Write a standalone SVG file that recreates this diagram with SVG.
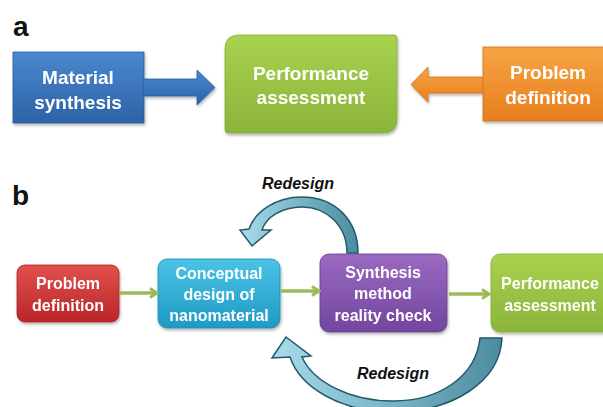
<svg xmlns="http://www.w3.org/2000/svg" width="603" height="407" viewBox="0 0 603 407">
<defs>
  <style>
    .lbl{font-family:"Liberation Sans",Arial,sans-serif;font-weight:bold;fill:#111}
    .ta{font-family:"Liberation Sans",Arial,sans-serif;font-weight:bold;font-size:19px;fill:#fff;text-anchor:middle}
    .tb{font-family:"Liberation Sans",Arial,sans-serif;font-weight:bold;font-size:16px;fill:#fff;text-anchor:middle}
    .rd{font-family:"Liberation Sans",Arial,sans-serif;font-weight:bold;font-style:italic;font-size:16px;fill:#111;text-anchor:middle}
    .con{stroke:#9bbb59;stroke-width:3.5;fill:none}
    .arc{stroke:#23596a;stroke-width:1.5}
  </style>
  <filter id="sh" x="-10%" y="-10%" width="125%" height="130%">
    <feDropShadow dx="1" dy="2" stdDeviation="1.5" flood-color="#000" flood-opacity="0.3"/>
  </filter>
  <linearGradient id="gBlue" x1="0" y1="0" x2="0" y2="1"><stop offset="0" stop-color="#4a88cf"/><stop offset="1" stop-color="#2d62a6"/></linearGradient>
  <linearGradient id="gGreen" x1="0" y1="0" x2="0" y2="1"><stop offset="0" stop-color="#a9d24f"/><stop offset="1" stop-color="#8bb43b"/></linearGradient>
  <linearGradient id="gOrange" x1="0" y1="0" x2="0" y2="1"><stop offset="0" stop-color="#f8a444"/><stop offset="1" stop-color="#e77f1d"/></linearGradient>
  <linearGradient id="gRed" x1="0" y1="0" x2="0" y2="1"><stop offset="0" stop-color="#e2504c"/><stop offset="1" stop-color="#b9262a"/></linearGradient>
  <linearGradient id="gCyan" x1="0" y1="0" x2="0" y2="1"><stop offset="0" stop-color="#4ac3e6"/><stop offset="1" stop-color="#1f9ac4"/></linearGradient>
  <linearGradient id="gPurple" x1="0" y1="0" x2="0" y2="1"><stop offset="0" stop-color="#9a69c0"/><stop offset="1" stop-color="#72469e"/></linearGradient>
  <linearGradient id="gArc" x1="0" y1="0" x2="1" y2="0"><stop offset="0" stop-color="#a7dcec"/><stop offset="1" stop-color="#4c8c9e"/></linearGradient>
  <marker id="chev" viewBox="0 0 12 12" refX="10" refY="6" markerWidth="12" markerHeight="12" markerUnits="userSpaceOnUse" orient="auto">
    <path d="M3 1.5 L10 6 L3 10.5" fill="none" stroke="#9bbb59" stroke-width="3" stroke-linejoin="miter"/>
  </marker>
</defs>

<rect width="603" height="407" fill="#fff"/>

<text class="lbl" x="13" y="36" font-size="28">a</text>
<text class="lbl" x="12" y="205" font-size="28">b</text>

<!-- Panel a -->
<g id="a-material-synthesis" filter="url(#sh)">
  <rect x="13" y="52" width="131" height="71" fill="url(#gBlue)" stroke="#2a5c9c" stroke-width="0.8"/>
  <path d="M143 79 H197 V70 L215 87.5 L197 105 V96 H143 Z" fill="url(#gBlue)" stroke="#2a5c9c" stroke-width="0.8"/>
  <text class="ta" x="78" y="84">Material</text>
  <text class="ta" x="78" y="109">synthesis</text>
</g>

<g id="a-performance-assessment" filter="url(#sh)">
  <path d="M239 35 H394 Q397 35 397 38 V119 Q397 133 383 133 H228 Q225 133 225 130 V49 Q225 35 239 35 Z" fill="url(#gGreen)" stroke="#86ad38" stroke-width="0.8"/>
  <text class="ta" x="311" y="80">Performance</text>
  <text class="ta" x="311" y="104">assessment</text>
</g>

<g id="a-problem-definition" filter="url(#sh)">
  <path d="M484 77 H428 V67 L411 84.5 L428 102 V93 H484 Z" fill="url(#gOrange)" stroke="#d07218" stroke-width="0.8"/>
  <rect x="483" y="47" width="125" height="74" fill="url(#gOrange)" stroke="#d07218" stroke-width="0.8"/>
  <text class="ta" x="548" y="79">Problem</text>
  <text class="ta" x="548" y="104">definition</text>
</g>

<!-- Panel b nodes -->
<g id="b-problem-definition" filter="url(#sh)">
  <rect x="17" y="265" width="102" height="57" rx="8" fill="url(#gRed)" stroke="#a82326" stroke-width="0.8"/>
  <text class="tb" x="68" y="289">Problem</text>
  <text class="tb" x="68" y="311">definition</text>
</g>

<g id="b-conceptual-design" filter="url(#sh)">
  <rect x="158" y="259" width="122" height="69" rx="9" fill="url(#gCyan)" stroke="#1b8bb2" stroke-width="0.8"/>
  <text class="tb" x="219" y="279">Conceptual</text>
  <text class="tb" x="219" y="300">design of</text>
  <text class="tb" x="219" y="321">nanomaterial</text>
</g>

<g id="b-synthesis-check" filter="url(#sh)">
  <rect x="320" y="254" width="127" height="78" rx="9" fill="url(#gPurple)" stroke="#66408e" stroke-width="0.8"/>
  <text class="tb" x="383" y="278">Synthesis</text>
  <text class="tb" x="383" y="299">method</text>
  <text class="tb" x="383" y="321">reality check</text>
</g>

<g id="b-performance-assessment" filter="url(#sh)">
  <rect x="491" y="254" width="125" height="78" rx="9" fill="url(#gGreen)" stroke="#86ad38" stroke-width="0.8"/>
  <text class="tb" x="550" y="289">Performance</text>
  <text class="tb" x="550" y="311">assessment</text>
</g>

<!-- Connectors -->
<g id="connectors">
  <line class="con" x1="120" y1="293" x2="157" y2="293" marker-end="url(#chev)"/>
  <line class="con" x1="281" y1="291" x2="319" y2="291" marker-end="url(#chev)"/>
  <line class="con" x1="449" y1="294" x2="489" y2="294" marker-end="url(#chev)"/>

  <path class="arc" fill="url(#gArc)" d="M358 253 C358 220 335 197 302 197 C275 197 255 212 249 229 L240 230 L252 246 L271 230 L262 230 C266 217 282 207 302 207 C326 207 347 225 347 253 Z"/>
  <path class="arc" fill="url(#gArc)" d="M502 338 C500 382 452 412 393 412 C340 412 300 387 290 357 L272 358 L286 337 L311 356 L302 357 C313 382 350 401 393 401 C440 401 476 376 480 338 Z"/>

  <text class="rd" x="298" y="189">Redesign</text>
  <text class="rd" x="393" y="379">Redesign</text>
</g>
</svg>
